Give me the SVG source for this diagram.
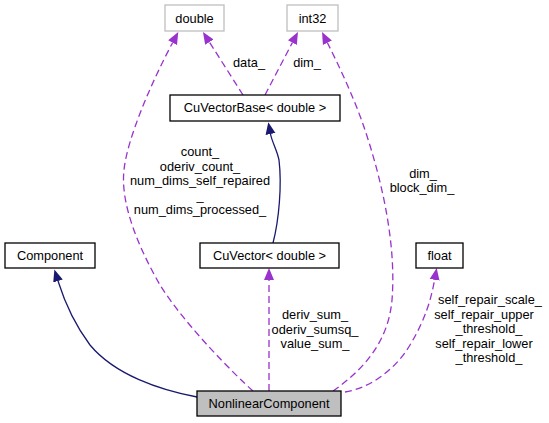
<svg xmlns="http://www.w3.org/2000/svg" width="549" height="423" viewBox="0 0 549 423">
<style>
text{font-family:"Liberation Sans",Arial,sans-serif;font-size:12.8px;fill:#000;text-anchor:middle}
.n{fill:#fff;stroke:#000;stroke-width:1.3}
.g{fill:#fff;stroke:#bfbfbf;stroke-width:1.3}
.h{fill:#bfbfbf;stroke:#000;stroke-width:1.3}
.inh{fill:none;stroke:#191970;stroke-width:1.3;marker-end:url(#an)}
.use{fill:none;stroke:#9a32cd;stroke-width:1.3;stroke-dasharray:7,4;marker-end:url(#ap)}
</style>
<defs>
<marker id="an" markerUnits="userSpaceOnUse" markerWidth="13" markerHeight="11" refX="0" refY="5" orient="auto" viewBox="0 0 13 10"><path d="M0,0 L12,5 L0,10 z" fill="#191970"/></marker>
<marker id="ap" markerUnits="userSpaceOnUse" markerWidth="13" markerHeight="11" refX="0" refY="5" orient="auto" viewBox="0 0 13 10"><path d="M0,0 L12,5 L0,10 z" fill="#9a32cd"/></marker>
</defs>
<rect width="549" height="423" fill="#fff"/>
<g id="edges">
<path class="inh" d="M197,397 C160,390 115,375 90,345 C75,325 64,300 58,281"/>
<path class="inh" d="M273,243 C279,220 282,185 279,160 C277,150 272,142 270.5,134"/>
<path class="use" d="M243,95 L209.4,42.1"/>
<text x="249" y="67">data_</text>
<path class="use" d="M265,95 L292.4,42.6"/>
<text x="307" y="67">dim_</text>
<path class="use" d="M253,391 C235,375 185,325 160,285 C140,250 120,205 124,170 C127,140 150,85 172.6,42.7"/>
<text x="200" y="156">count_</text>
<text x="200" y="170.5">oderiv_count_</text>
<text x="200" y="185">num_dims_self_repaired</text>
<text x="200" y="199.5">_</text>
<text x="200" y="214">num_dims_processed_</text>
<path class="use" d="M269,391 L269,280"/>
<text x="315" y="319">deriv_sum_</text>
<text x="315" y="333.5">oderiv_sumsq_</text>
<text x="315" y="348">value_sum_</text>
<path class="use" d="M333,391 C360,372 388,345 392,300 C396,250 385,190 365,130 C355,100 340,68 327.4,42.7"/>
<text x="423" y="177.5">dim_</text>
<text x="422" y="192">block_dim_</text>
<path class="use" d="M345,392 C370,388 395,370 410,345 C425,320 431,300 434.6,279.8"/>
<text x="490" y="304">self_repair_scale_</text>
<text x="484" y="318.5">self_repair_upper</text>
<text x="489" y="333">_threshold_</text>
<text x="484" y="347.5">self_repair_lower</text>
<text x="489" y="362">_threshold_</text>
</g>
<g id="node-double"><rect class="g" x="165" y="5" width="59" height="26"/><text x="194.5" y="22.5">double</text></g>
<g id="node-int32"><rect class="g" x="287" y="5" width="51" height="26"/><text x="312.5" y="22.5">int32</text></g>
<g id="node-cuvectorbase"><rect class="n" x="170" y="95" width="170" height="26"/><text x="255" y="112">CuVectorBase&lt; double &gt;</text></g>
<g id="node-component"><rect class="n" x="5" y="243" width="90" height="25"/><text x="50" y="260">Component</text></g>
<g id="node-cuvector"><rect class="n" x="200" y="243" width="139" height="25"/><text x="269.5" y="260">CuVector&lt; double &gt;</text></g>
<g id="node-float"><rect class="n" x="416" y="243" width="47" height="25"/><text x="439.5" y="260">float</text></g>
<g id="node-nonlinear"><rect class="h" x="197" y="391" width="144" height="25"/><text x="269" y="407.5">NonlinearComponent</text></g>
</svg>
